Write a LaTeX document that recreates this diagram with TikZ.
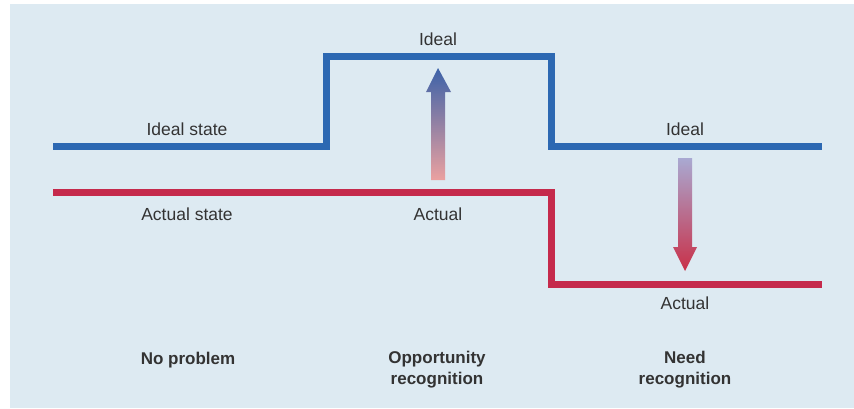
\documentclass[tikz,border=0pt]{standalone}
\usepackage{fontspec}
\setmainfont{Liberation Sans}
\begin{document}
\begin{tikzpicture}[x=1pt,y=-1pt,
  idealline/.style={draw=idealblue,line width=7pt,miter limit=10},
  actualline/.style={draw=actualred,line width=7pt,miter limit=10},
  lbl/.style={text=labelgray,font=\fontsize{17.5}{20}\selectfont,inner sep=0pt},
  caselbl/.style={text=labelgray,font=\fontsize{17}{21}\selectfont\bfseries,align=center,inner sep=0pt}]
\definecolor{bgblue}{HTML}{DDEAF2}
\definecolor{idealblue}{HTML}{2C68B2}
\definecolor{actualred}{HTML}{C52A4C}
\definecolor{labelgray}{HTML}{333333}
\definecolor{pinkish}{HTML}{EBA1A0}
\definecolor{arrowblue}{HTML}{3C62A8}
\definecolor{lavender}{HTML}{A9A9D2}
\definecolor{arrowred}{HTML}{C93048}
\useasboundingbox (0,0) rectangle (854,408);
\fill[white] (0,0) rectangle (854,408);
\fill[bgblue] (10,4) rectangle (854,408);
% ideal line
\draw[idealline] (53,146) -- (326,146) -- (326,56) -- (551,56) -- (551,146) -- (822,146);
% actual line
\draw[actualline] (53,192) -- (551,192) -- (551,284) -- (822,284);
% up arrow (opportunity)
\shade[top color=arrowblue,bottom color=pinkish]
  (431,180) -- (431,92) -- (426,92) -- (438,68) -- (451,92) -- (445,92) -- (445,180) -- cycle;
% down arrow (need)
\shade[top color=lavender,bottom color=arrowred]
  (678,158) -- (678,247) -- (673,247) -- (685,271) -- (697,247) -- (692,247) -- (692,158) -- cycle;
% labels
\node[lbl] (idealstate) at (187,129) {Ideal state};
\node[lbl] (actualstate) at (187,214) {Actual state};
\node[lbl] (idealtop) at (438,39) {Ideal};
\node[lbl] (actualmid) at (438,214) {Actual};
\node[lbl] (idealright) at (685,129) {Ideal};
\node[lbl] (actualright) at (685,303) {Actual};
\node[caselbl] (noproblem) at (188,360) {No problem};
\node[caselbl] (opportunity) at (437,370) {Opportunity\\recognition};
\node[caselbl] (need) at (685,370) {Need\\recognition};
\end{tikzpicture}
\end{document}
